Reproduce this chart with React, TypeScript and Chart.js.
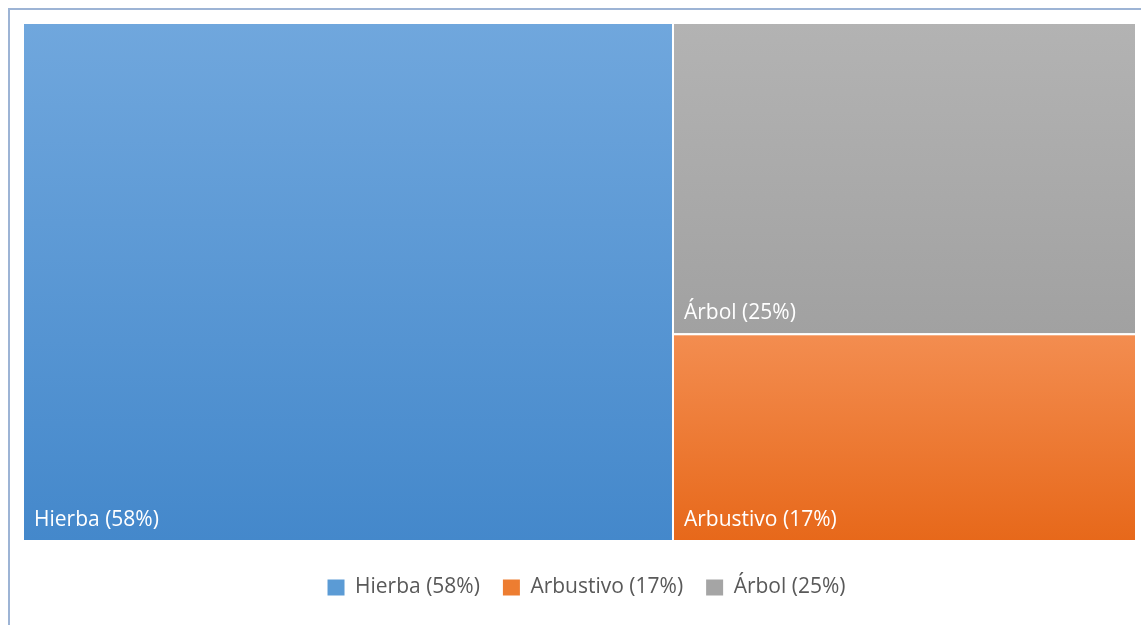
import React, { useEffect, useRef } from "react";
import { Chart, registerables } from "chart.js";

Chart.register(...registerables);

// ---- data ----
const categories: string[] = ["Hierba (58%)", "Arbustivo (17%)", "Árbol (25%)"];
const values: number[] = [58.4, 16.6, 25.0];
const topColors: string[] = ["#70a7dd", "#f38d50", "#b3b3b3"];
const bottomColors: string[] = ["#4488cb", "#e7681a", "#a1a1a1"];
const legendColors: string[] = ["#5b9bd5", "#ed7d31", "#a5a5a5"];
// first item fills the left column; the rest are stacked (top to bottom) in the right column
const firstColumn: number[] = [0];
const secondColumn: number[] = [2, 1];

const FONT = "'Open Sans', 'DejaVu Sans', sans-serif";

type Rect = { i: number; x0: number; x1: number; y0: number; y1: number };

function layout(): Rect[] {
  const total = values.reduce((a, b) => a + b, 0);
  const rects: Rect[] = [];
  let x = 0;
  for (const col of [firstColumn, secondColumn]) {
    const colSum = col.reduce((a, i) => a + values[i], 0);
    const w = (colSum / total) * 100;
    let y = 0;
    for (const i of col) {
      const h = (values[i] / colSum) * 100;
      rects.push({ i, x0: x, x1: x + w, y0: y, y1: y + h });
      y += h;
    }
    x += w;
  }
  return rects;
}

const treemapPlugin = {
  id: "treemapTiles",
  afterLayout(chart: any) {
    if (chart.legend) {
      chart.legend.left += 7;
      chart.legend.right += 7;
    }
  },
  afterDatasetsDraw(chart: any) {
    const { ctx, scales } = chart;
    const xs = scales.x;
    const ys = scales.y;
    const rects = layout();
    ctx.save();
    for (const r of rects) {
      const left = xs.getPixelForValue(r.x0);
      const right = xs.getPixelForValue(r.x1);
      const top = ys.getPixelForValue(r.y0);
      const bottom = ys.getPixelForValue(r.y1);
      const g = ctx.createLinearGradient(0, top, 0, bottom);
      g.addColorStop(0, topColors[r.i]);
      g.addColorStop(1, bottomColors[r.i]);
      ctx.fillStyle = g;
      ctx.fillRect(left, top, right - left, bottom - top);
      ctx.strokeStyle = "#ffffff";
      ctx.lineWidth = 2;
      ctx.strokeRect(left, top, right - left, bottom - top);
      ctx.fillStyle = "#ffffff";
      ctx.font = `21px ${FONT}`;
      ctx.textAlign = "left";
      ctx.textBaseline = "middle";
      ctx.fillText(categories[r.i], left + 11, bottom - 21);
    }
    ctx.restore();
  },
};

export default function App() {
  const canvasRef = useRef<HTMLCanvasElement | null>(null);

  useEffect(() => {
    const canvas = canvasRef.current;
    if (!canvas) return;
    const chart = new Chart(canvas, {
      type: "scatter",
      data: {
        datasets: categories.map((c, i) => ({
          label: c,
          data: [] as any[],
          backgroundColor: legendColors[i],
          borderColor: legendColors[i],
        })),
      },
      options: {
        animation: false,
        responsive: false,
        maintainAspectRatio: false,
        layout: { padding: { left: 23, top: 23, right: 5, bottom: 17 } },
        scales: {
          x: {
            type: "linear",
            min: 0,
            max: 100,
            display: true,
            grid: { display: false },
            border: { display: false },
            ticks: { display: false },
            afterFit: (s: any) => {
              s.height = 13;
            },
          },
          y: {
            type: "linear",
            min: 0,
            max: 100,
            reverse: true,
            display: false,
          },
        },
        plugins: {
          tooltip: { enabled: false },
          legend: {
            display: true,
            position: "bottom",
            labels: {
              color: "#595959",
              font: { family: FONT, size: 21 },
              boxWidth: 17,
              boxHeight: 16,
              padding: 23,
              generateLabels: () =>
                categories.map((c, i) => ({
                  text: c,
                  fillStyle: legendColors[i],
                  strokeStyle: legendColors[i],
                  lineWidth: 0,
                  hidden: false,
                  datasetIndex: i,
                  fontColor: "#595959",
                })),
            },
          },
        },
      },
      plugins: [treemapPlugin],
    });
    return () => chart.destroy();
  }, []);

  return (
    <div
      style={{
        position: "fixed",
        left: 0,
        top: 0,
        width: 1141,
        height: 625,
        background: "#ffffff",
        overflow: "hidden",
      }}
    >
      <div
        style={{
          position: "absolute",
          left: 8,
          top: 8,
          width: 1200,
          height: 700,
          border: "2px solid #9db4d5",
          boxSizing: "border-box",
        }}
      />
      <canvas
        ref={canvasRef}
        width={1141}
        height={625}
        style={{ position: "absolute", left: 0, top: 0, width: 1141, height: 625 }}
      />
    </div>
  );
}
